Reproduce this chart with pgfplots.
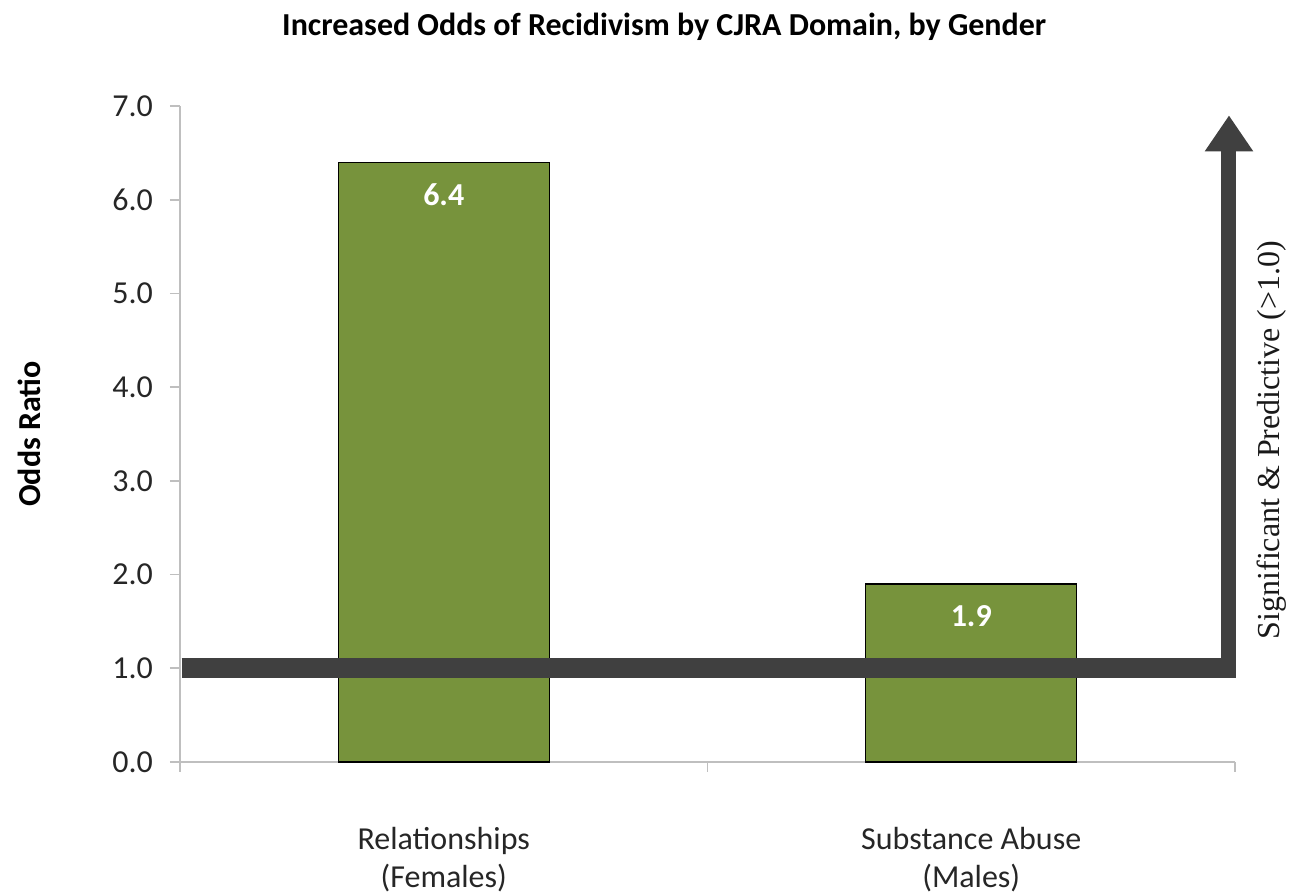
\documentclass[border=0pt]{standalone}
\usepackage{fontspec}
\setmainfont{Carlito}
\newfontfamily\serifx{Liberation Serif}
\usepackage{pgfplots}
\pgfplotsset{compat=1.18}
\usetikzlibrary{arrows.meta}
\definecolor{barg}{HTML}{77933C}
\definecolor{dgray}{HTML}{404040}
\definecolor{axg}{HTML}{BFBFBF}
\begin{document}
\begin{tikzpicture}
\path[use as bounding box] (-90pt,-66pt) rectangle (558pt,381pt);
\begin{axis}[
  at={(0,0)}, anchor=south west,
  scale only axis,
  width=527.5pt, height=328pt,
  xmin=-0.5, xmax=1.5, ymin=0, ymax=7,
  clip=false,
  axis x line=bottom, axis y line=left,
  axis line style={draw=axg, line width=0.8pt, -},
  tick style={draw=axg, line width=0.8pt},
  tick align=outside, major tick length=5pt,
  ytick={0,1,2,3,4,5,6,7},
  /pgf/number format/assume math mode=true,
  y tick label style={/pgf/number format/fixed, /pgf/number format/fixed zerofill, /pgf/number format/precision=1, font=\fontsize{16}{19}\selectfont, text=black!85, xshift=-5pt},
  xtick={-0.5,0.5,1.5}, xticklabels={,,},
  extra x ticks={0,1},
  extra x tick labels={{Relationships\\(Females)},{Substance Abuse\\(Males)}},
  extra x tick style={major tick length=0pt, tick label style={align=center, font=\fontsize{16}{19}\selectfont, text=black!85, yshift=-29pt}},
  title={Increased Odds of Recidivism by CJRA Domain, by Gender},
  every axis title/.style={at={(axis description cs:0.459,1.121)}, anchor=center, font=\bfseries\fontsize{16}{19}\selectfont},
  ylabel={Odds Ratio},
  every axis y label/.style={at={(axis description cs:-0.143,0.5)}, rotate=90, anchor=center, font=\bfseries\fontsize{16}{19}\selectfont},
]
\addplot[ybar, bar width=0.4, fill=barg, draw=black, line width=0.6pt,
  nodes near coords, point meta=y,
  nodes near coords style={font=\bfseries\fontsize{16}{19}\selectfont, text=white, anchor=center, yshift=-16pt}]
  coordinates {(0,6.4) (1,1.9)};
\addplot[dgray, line width=10pt, line cap=butt] coordinates {(-0.497,1) (1.5015,1)};
\addplot[dgray, line width=7.5pt, -{Triangle[width=23pt,length=18pt]}] coordinates {(1.4886,0.905) (1.4886,6.90)};
\node[rotate=90, font=\serifx\fontsize{16}{19}\selectfont, text=black!90] at (axis cs:1.570,3.436) {Significant \& Predictive (>1.0)};
\end{axis}
\end{tikzpicture}
\end{document}
